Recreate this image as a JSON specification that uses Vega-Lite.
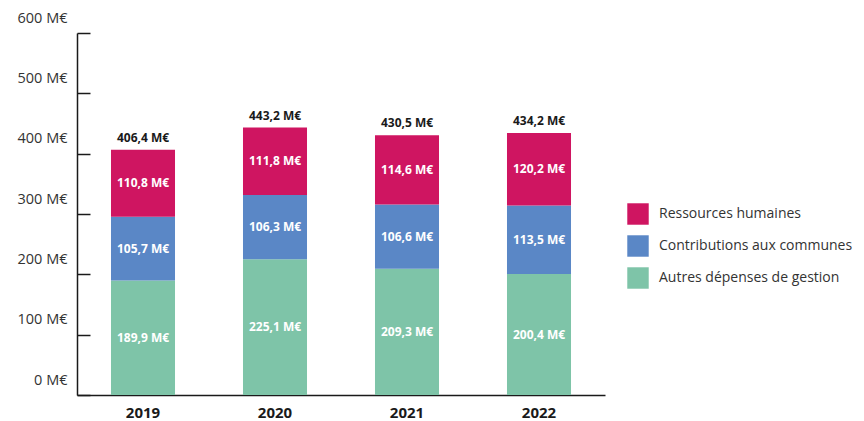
{
  "$schema": "https://vega.github.io/schema/vega-lite/v6.json",
  "autosize": "none",
  "width": 528,
  "height": 362,
  "padding": {"left": 77, "top": 33, "right": 259, "bottom": 26},
  "background": "white",
  "datasets": {
    "seg": [
      {"year": "2019", "cat": "Autres dépenses de gestion", "order": 1, "value": 189.9},
      {"year": "2019", "cat": "Contributions aux communes", "order": 2, "value": 105.7},
      {"year": "2019", "cat": "Ressources humaines", "order": 3, "value": 110.8},
      {"year": "2020", "cat": "Autres dépenses de gestion", "order": 1, "value": 225.1},
      {"year": "2020", "cat": "Contributions aux communes", "order": 2, "value": 106.3},
      {"year": "2020", "cat": "Ressources humaines", "order": 3, "value": 111.8},
      {"year": "2021", "cat": "Autres dépenses de gestion", "order": 1, "value": 209.3},
      {"year": "2021", "cat": "Contributions aux communes", "order": 2, "value": 106.6},
      {"year": "2021", "cat": "Ressources humaines", "order": 3, "value": 114.6},
      {"year": "2022", "cat": "Autres dépenses de gestion", "order": 1, "value": 200.4},
      {"year": "2022", "cat": "Contributions aux communes", "order": 2, "value": 113.5},
      {"year": "2022", "cat": "Ressources humaines", "order": 3, "value": 120.2}
    ],
    "tot": [
      {"year": "2019", "total": 406.4},
      {"year": "2020", "total": 443.2},
      {"year": "2021", "total": 430.5},
      {"year": "2022", "total": 434.2}
    ]
  },
  "config": {
    "view": {"stroke": null},
    "font": "Open Sans"
  },
  "layer": [
    {
      "data": {"name": "seg"},
      "transform": [
        {"stack": "value", "groupby": ["year"], "sort": [{"field": "order", "order": "ascending"}], "as": ["y0", "y1"]}
      ],
      "mark": {"type": "bar"},
      "encoding": {
        "x": {
          "field": "year", "type": "nominal",
          "scale": {"paddingInner": 0.515, "paddingOuter": 0.2575},
          "axis": {
            "title": null, "labelAngle": 0, "ticks": false, "domainColor": "#1a1a1a", "domainWidth": 1.5,
            "labelFont": "Open Sans", "labelFontSize": 15, "labelFontWeight": "bold", "labelColor": "#1a1a1a", "labelPadding": 10
          }
        },
        "y": {
          "field": "y0", "type": "quantitative",
          "scale": {"domain": [0, 600]},
          "axis": {
            "title": null, "grid": false, "values": [0, 100, 200, 300, 400, 500, 600],
            "labelExpr": "datum.value + ' M€'",
            "domainColor": "#1a1a1a", "domainWidth": 1.5, "tickColor": "#1a1a1a", "tickWidth": 1.5, "tickSize": -13,
            "labelPadding": 23, "labelOffset": -15, "labelFont": "Open Sans", "labelFontSize": 14.5, "labelColor": "#333333"
          }
        },
        "y2": {"field": "y1"},
        "color": {
          "field": "cat", "type": "nominal",
          "scale": {
            "domain": ["Ressources humaines", "Contributions aux communes", "Autres dépenses de gestion"],
            "range": ["#cf1561", "#5a87c6", "#7ec4a8"]
          },
          "legend": {
            "title": null, "orient": "none", "legendX": 550, "legendY": 170,
            "symbolType": "square", "symbolSize": 460, "symbolStrokeWidth": 0, "symbolOpacity": 1,
            "labelFont": "Open Sans", "labelFontSize": 14, "labelColor": "#333333", "labelOffset": 10, "rowPadding": 10, "labelLimit": 400
          }
        }
      }
    },
    {
      "data": {"name": "seg"},
      "transform": [
        {"stack": "value", "groupby": ["year"], "sort": [{"field": "order", "order": "ascending"}], "as": ["y0", "y1"]},
        {"calculate": "(datum.y0 + datum.y1) / 2", "as": "mid"},
        {"calculate": "replace(format(datum.value, '.1f'), '.', ',') + ' M€'", "as": "label"}
      ],
      "mark": {"type": "text", "color": "white", "fontWeight": "bold", "fontSize": 12, "font": "Open Sans", "letterSpacing": -0.5},
      "encoding": {
        "x": {"field": "year", "type": "nominal"},
        "y": {"field": "mid", "type": "quantitative"},
        "text": {"field": "label"}
      }
    },
    {
      "data": {"name": "tot"},
      "transform": [
        {"calculate": "replace(format(datum.total, '.1f'), '.', ',') + ' M€'", "as": "label"}
      ],
      "mark": {"type": "text", "color": "#1a1a1a", "fontWeight": "bold", "fontSize": 12, "font": "Open Sans", "baseline": "bottom", "dy": -5, "letterSpacing": -0.5},
      "encoding": {
        "x": {"field": "year", "type": "nominal"},
        "y": {"field": "total", "type": "quantitative"},
        "text": {"field": "label"}
      }
    }
  ]
}
